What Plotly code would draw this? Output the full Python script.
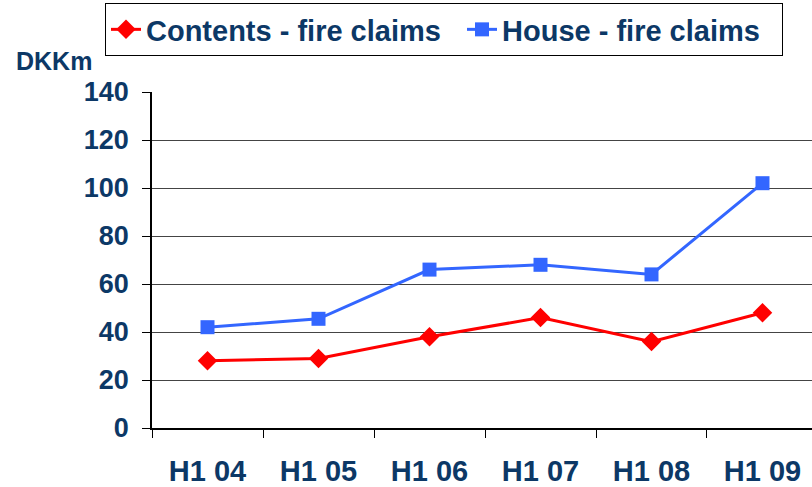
import plotly.graph_objects as go

categories = ["H1 04", "H1 05", "H1 06", "H1 07", "H1 08", "H1 09"]
contents = [28, 29, 38, 46, 36, 48]
house = [42, 45.5, 66, 68, 64, 102]
y_ticks = [0, 20, 40, 60, 80, 100, 120, 140]
series_names = ["Contents - fire claims", "House - fire claims"]

navy = "#0c3866"
font_family = "Liberation Sans, Arial, sans-serif"
NBSP = "\u00a0"

fig = go.Figure()
fig.add_trace(go.Scatter(
    x=categories, y=contents, name=series_names[0] + NBSP * 2,
    mode="lines+markers",
    line=dict(color="#ff0000", width=3),
    marker=dict(symbol="diamond", size=15, color="#ff0000"),
))
fig.add_trace(go.Scatter(
    x=categories, y=house, name=series_names[1] + NBSP * 2,
    mode="lines+markers",
    line=dict(color="#3366ff", width=3),
    marker=dict(symbol="square", size=14, color="#3366ff"),
))

fig.update_layout(
    width=812, height=487,
    margin=dict(l=152, r=0, t=92, b=59),
    paper_bgcolor="white", plot_bgcolor="white",
    font=dict(family=font_family, color=navy),
    showlegend=True,
    legend=dict(
        orientation="h",
        xref="paper", yref="paper",
        x=(105 - 152) / 660, y=(428 - 3) / 336,
        xanchor="left", yanchor="top",
        bordercolor="black", borderwidth=1,
        font=dict(size=29, color=navy, family=font_family, weight="bold"),
        itemwidth=30,
        tracegroupgap=0,
    ),
    xaxis=dict(
        type="category",
        range=[-0.5, 5.446],
        showline=True, linecolor="black", linewidth=1.5,
        ticks="outside", tickson="boundaries", ticklen=8, tickcolor="black",
        tickfont=dict(size=29, color=navy, family=font_family, weight="bold"),
        showgrid=False,
        ticklabelstandoff=16,
    ),
    yaxis=dict(
        range=[0, 140],
        tickvals=y_ticks,
        showline=True, linecolor="black", linewidth=1.5,
        ticks="outside", ticklen=8, tickcolor="black",
        tickfont=dict(size=27, color=navy, family=font_family, weight="bold"),
        showgrid=True, gridcolor="#444444", gridwidth=1.3,
        zeroline=False,
        ticklabelstandoff=8,
    ),
    annotations=[dict(
        text="DKKm", xref="paper", yref="paper",
        x=(14 - 152) / 660, y=(428 - 61) / 336,
        xanchor="left", yanchor="middle", showarrow=False,
        font=dict(size=25, color=navy, family=font_family, weight="bold"),
    )],
)

fig.write_html("out.html", config={"displayModeBar": False},
               post_script="document.body.style.margin='0';")
